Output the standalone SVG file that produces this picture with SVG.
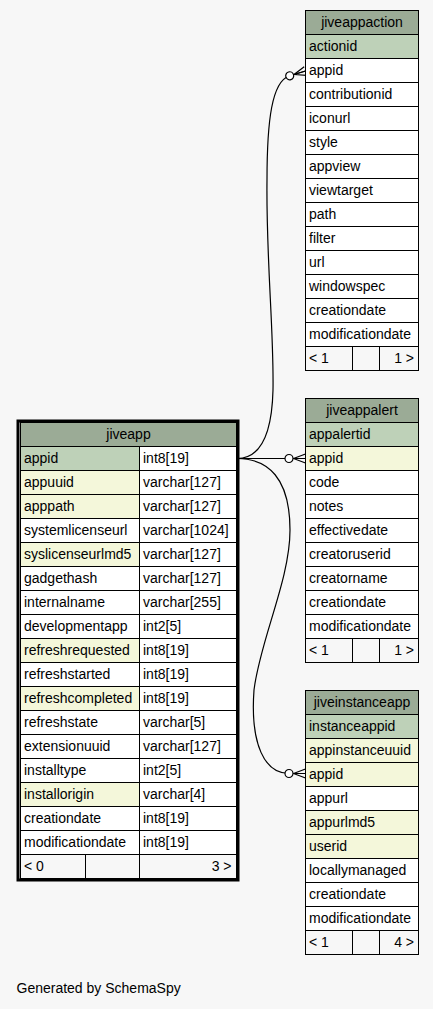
<svg xmlns="http://www.w3.org/2000/svg" width="433" height="1009" viewBox="0 0 433 1009">
<defs>
<style>
text{font-family:"Liberation Sans",Arial,Helvetica,sans-serif;font-size:14px;fill:#000}
.c{stroke:#000;stroke-width:1}
.h{fill:#9bab96}
.pk{fill:#bed1b8}
.ix{fill:#f4f7da}
.w{fill:#ffffff}
.ft{fill:#f7f7f7}
.t{text-anchor:middle}
.r{text-anchor:end}
.edge{fill:none;stroke:#000;stroke-width:1.2;marker-end:url(#crowodot)}
</style>
<marker id="crowodot" markerUnits="userSpaceOnUse" viewBox="-22 -7 23 14" refX="0" refY="0" markerWidth="23" markerHeight="14" orient="auto" overflow="visible">
<path d="M-12,0 L0,-4.5 M-12,0 L0,0 M-12,0 L0,4.5" fill="none" stroke="#000" stroke-width="1.2"/>
<circle cx="-16.5" cy="0" r="4" fill="#ffffff" stroke="#000" stroke-width="1.2"/>
</marker>
</defs>
<rect x="0" y="0" width="433" height="1009" fill="#f7f7f7"/>

<g id="connectors">
<path class="edge" d="M237,458.5 C262,458.5 272,430 273,390 C274,330 266,260 267,180 C267,120 272,82 289,76 L305.5,71"/>
<path class="edge" d="M237,458.5 L305.5,458.5"/>
<path class="edge" d="M237,458.5 C268,458.5 290,478 290,530 C290,580 260,640 254,690 C250,745 265,773.5 289,773.5 L305.5,773.5"/>
</g>

<g id="jiveapp" transform="translate(20.5,422.5)">
<rect class="c h" x="0" y="0" width="216" height="24"/>
<text class="t" x="108" y="16.5">jiveapp</text>
<rect class="c pk" x="0" y="24" width="119" height="24"/><rect class="c w" x="119" y="24" width="97" height="24"/>
<rect class="c ix" x="0" y="48" width="119" height="24"/><rect class="c w" x="119" y="48" width="97" height="24"/>
<rect class="c ix" x="0" y="72" width="119" height="24"/><rect class="c w" x="119" y="72" width="97" height="24"/>
<rect class="c w" x="0" y="96" width="119" height="24"/><rect class="c w" x="119" y="96" width="97" height="24"/>
<rect class="c ix" x="0" y="120" width="119" height="24"/><rect class="c w" x="119" y="120" width="97" height="24"/>
<rect class="c w" x="0" y="144" width="119" height="24"/><rect class="c w" x="119" y="144" width="97" height="24"/>
<rect class="c w" x="0" y="168" width="119" height="24"/><rect class="c w" x="119" y="168" width="97" height="24"/>
<rect class="c w" x="0" y="192" width="119" height="24"/><rect class="c w" x="119" y="192" width="97" height="24"/>
<rect class="c ix" x="0" y="216" width="119" height="24"/><rect class="c w" x="119" y="216" width="97" height="24"/>
<rect class="c w" x="0" y="240" width="119" height="24"/><rect class="c w" x="119" y="240" width="97" height="24"/>
<rect class="c ix" x="0" y="264" width="119" height="24"/><rect class="c w" x="119" y="264" width="97" height="24"/>
<rect class="c w" x="0" y="288" width="119" height="24"/><rect class="c w" x="119" y="288" width="97" height="24"/>
<rect class="c w" x="0" y="312" width="119" height="24"/><rect class="c w" x="119" y="312" width="97" height="24"/>
<rect class="c w" x="0" y="336" width="119" height="24"/><rect class="c w" x="119" y="336" width="97" height="24"/>
<rect class="c ix" x="0" y="360" width="119" height="24"/><rect class="c w" x="119" y="360" width="97" height="24"/>
<rect class="c w" x="0" y="384" width="119" height="24"/><rect class="c w" x="119" y="384" width="97" height="24"/>
<rect class="c w" x="0" y="408" width="119" height="24"/><rect class="c w" x="119" y="408" width="97" height="24"/>
<rect class="c ft" x="0" y="432" width="65" height="24"/><rect class="c ft" x="65" y="432" width="54" height="24"/><rect class="c ft" x="119" y="432" width="97" height="24"/>
<rect x="-2.5" y="-1.5" width="220" height="459" fill="none" stroke="#000" stroke-width="3"/>
<text x="3.5" y="40.5">appid</text><text x="122.5" y="40.5">int8[19]</text>
<text x="3.5" y="64.5">appuuid</text><text x="122.5" y="64.5">varchar[127]</text>
<text x="3.5" y="88.5">apppath</text><text x="122.5" y="88.5">varchar[127]</text>
<text x="3.5" y="112.5">systemlicenseurl</text><text x="122.5" y="112.5">varchar[1024]</text>
<text x="3.5" y="136.5">syslicenseurlmd5</text><text x="122.5" y="136.5">varchar[127]</text>
<text x="3.5" y="160.5">gadgethash</text><text x="122.5" y="160.5">varchar[127]</text>
<text x="3.5" y="184.5">internalname</text><text x="122.5" y="184.5">varchar[255]</text>
<text x="3.5" y="208.5">developmentapp</text><text x="122.5" y="208.5">int2[5]</text>
<text x="3.5" y="232.5">refreshrequested</text><text x="122.5" y="232.5">int8[19]</text>
<text x="3.5" y="256.5">refreshstarted</text><text x="122.5" y="256.5">int8[19]</text>
<text x="3.5" y="280.5">refreshcompleted</text><text x="122.5" y="280.5">int8[19]</text>
<text x="3.5" y="304.5">refreshstate</text><text x="122.5" y="304.5">varchar[5]</text>
<text x="3.5" y="328.5">extensionuuid</text><text x="122.5" y="328.5">varchar[127]</text>
<text x="3.5" y="352.5">installtype</text><text x="122.5" y="352.5">int2[5]</text>
<text x="3.5" y="376.5">installorigin</text><text x="122.5" y="376.5">varchar[4]</text>
<text x="3.5" y="400.5">creationdate</text><text x="122.5" y="400.5">int8[19]</text>
<text x="3.5" y="424.5">modificationdate</text><text x="122.5" y="424.5">int8[19]</text>
<text x="3.5" y="448.5">&lt; 0</text><text class="r" x="211" y="448.5">3 &gt;</text>
</g>

<g id="jiveappaction" transform="translate(305.5,10.5)">
<rect class="c h" x="0" y="0" width="113" height="24"/>
<text class="t" x="56.5" y="16.5">jiveappaction</text>
<rect class="c pk" x="0" y="24" width="113" height="24"/>
<rect class="c w" x="0" y="48" width="113" height="24"/>
<rect class="c w" x="0" y="72" width="113" height="24"/>
<rect class="c w" x="0" y="96" width="113" height="24"/>
<rect class="c w" x="0" y="120" width="113" height="24"/>
<rect class="c w" x="0" y="144" width="113" height="24"/>
<rect class="c w" x="0" y="168" width="113" height="24"/>
<rect class="c w" x="0" y="192" width="113" height="24"/>
<rect class="c w" x="0" y="216" width="113" height="24"/>
<rect class="c w" x="0" y="240" width="113" height="24"/>
<rect class="c w" x="0" y="264" width="113" height="24"/>
<rect class="c w" x="0" y="288" width="113" height="24"/>
<rect class="c w" x="0" y="312" width="113" height="24"/>
<rect class="c ft" x="0" y="336" width="47" height="24"/><rect class="c ft" x="47" y="336" width="27" height="24"/><rect class="c ft" x="74" y="336" width="39" height="24"/>
<text x="3.5" y="40.5">actionid</text>
<text x="3.5" y="64.5">appid</text>
<text x="3.5" y="88.5">contributionid</text>
<text x="3.5" y="112.5">iconurl</text>
<text x="3.5" y="136.5">style</text>
<text x="3.5" y="160.5">appview</text>
<text x="3.5" y="184.5">viewtarget</text>
<text x="3.5" y="208.5">path</text>
<text x="3.5" y="232.5">filter</text>
<text x="3.5" y="256.5">url</text>
<text x="3.5" y="280.5">windowspec</text>
<text x="3.5" y="304.5">creationdate</text>
<text x="3.5" y="328.5">modificationdate</text>
<text x="3.5" y="352.5">&lt; 1</text><text class="r" x="108.5" y="352.5">1 &gt;</text>
</g>

<g id="jiveappalert" transform="translate(305.5,398.5)">
<rect class="c h" x="0" y="0" width="113" height="24"/>
<text class="t" x="56.5" y="16.5">jiveappalert</text>
<rect class="c pk" x="0" y="24" width="113" height="24"/>
<rect class="c ix" x="0" y="48" width="113" height="24"/>
<rect class="c w" x="0" y="72" width="113" height="24"/>
<rect class="c w" x="0" y="96" width="113" height="24"/>
<rect class="c w" x="0" y="120" width="113" height="24"/>
<rect class="c w" x="0" y="144" width="113" height="24"/>
<rect class="c w" x="0" y="168" width="113" height="24"/>
<rect class="c w" x="0" y="192" width="113" height="24"/>
<rect class="c w" x="0" y="216" width="113" height="24"/>
<rect class="c ft" x="0" y="240" width="47" height="24"/><rect class="c ft" x="47" y="240" width="27" height="24"/><rect class="c ft" x="74" y="240" width="39" height="24"/>
<text x="3.5" y="40.5">appalertid</text>
<text x="3.5" y="64.5">appid</text>
<text x="3.5" y="88.5">code</text>
<text x="3.5" y="112.5">notes</text>
<text x="3.5" y="136.5">effectivedate</text>
<text x="3.5" y="160.5">creatoruserid</text>
<text x="3.5" y="184.5">creatorname</text>
<text x="3.5" y="208.5">creationdate</text>
<text x="3.5" y="232.5">modificationdate</text>
<text x="3.5" y="256.5">&lt; 1</text><text class="r" x="108.5" y="256.5">1 &gt;</text>
</g>

<g id="jiveinstanceapp" transform="translate(305.5,690.5)">
<rect class="c h" x="0" y="0" width="113" height="24"/>
<text class="t" x="56.5" y="16.5">jiveinstanceapp</text>
<rect class="c pk" x="0" y="24" width="113" height="24"/>
<rect class="c ix" x="0" y="48" width="113" height="24"/>
<rect class="c ix" x="0" y="72" width="113" height="24"/>
<rect class="c w" x="0" y="96" width="113" height="24"/>
<rect class="c ix" x="0" y="120" width="113" height="24"/>
<rect class="c ix" x="0" y="144" width="113" height="24"/>
<rect class="c w" x="0" y="168" width="113" height="24"/>
<rect class="c w" x="0" y="192" width="113" height="24"/>
<rect class="c w" x="0" y="216" width="113" height="24"/>
<rect class="c ft" x="0" y="240" width="47" height="24"/><rect class="c ft" x="47" y="240" width="27" height="24"/><rect class="c ft" x="74" y="240" width="39" height="24"/>
<text x="3.5" y="40.5">instanceappid</text>
<text x="3.5" y="64.5">appinstanceuuid</text>
<text x="3.5" y="88.5">appid</text>
<text x="3.5" y="112.5">appurl</text>
<text x="3.5" y="136.5">appurlmd5</text>
<text x="3.5" y="160.5">userid</text>
<text x="3.5" y="184.5">locallymanaged</text>
<text x="3.5" y="208.5">creationdate</text>
<text x="3.5" y="232.5">modificationdate</text>
<text x="3.5" y="256.5">&lt; 1</text><text class="r" x="108.5" y="256.5">4 &gt;</text>
</g>

<text id="footer-note" x="16.5" y="993">Generated by SchemaSpy</text>
</svg>
